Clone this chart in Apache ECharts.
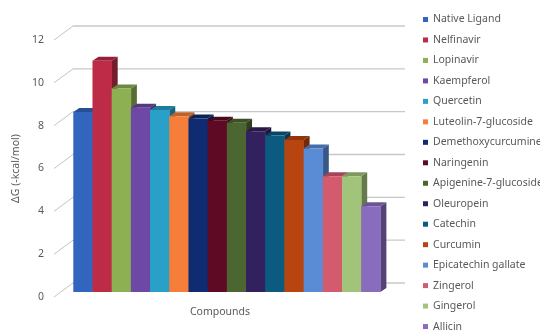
<!DOCTYPE html>
<html>
<head>
<meta charset="utf-8">
<script src="https://cdn.jsdelivr.net/npm/echarts@6/dist/echarts.min.js"></script>
<style>
  html, body { margin: 0; padding: 0; background: #ffffff; }
  #chart { width: 540px; height: 332px; }
</style>
</head>
<body>
<div id="chart"></div>
<script>
// Binding free energy per compound (ΔG, -kcal/mol)
const category = ['Compounds'];
const compounds = [
  'Native Ligand', 'Nelfinavir', 'Lopinavir', 'Kaempferol', 'Quercetin',
  'Luteolin-7-glucoside', 'Demethoxycurcumine', 'Naringenin',
  'Apigenine-7-glucoside', 'Oleuropein', 'Catechin', 'Curcumin',
  'Epicatechin gallate', 'Zingerol', 'Gingerol', 'Allicin'
];
const deltaG = [8.4, 10.8, 9.5, 8.6, 8.5, 8.2, 8.1, 8.0, 7.9, 7.5, 7.3, 7.1, 6.7, 5.4, 5.4, 4.0];
const colors = [
  '#3265be', '#be2b46', '#8cb052', '#6e48a6', '#28a0c8', '#f47e3a',
  '#0f2c72', '#5e0a24', '#4b6630', '#33205e', '#0d5a80', '#b84410',
  '#5a8cd6', '#d45a6e', '#a2c47a', '#8a6cbe'
];
const yTicks = [0, 2, 4, 6, 8, 10, 12];

// Oblique projection of the plot box: wall depth and bar depth (pixels)
const WALL_DX = 19, WALL_DY = -14;
const BAR_POS = 0.36;            // bar front face position within the depth
const BAR_DX = 6, BAR_DY = -4;   // bar depth
const BAR_SPAN = 0.925;          // share of the category band taken by the bars

function shade(hex, f) {
  const n = parseInt(hex.slice(1), 16);
  const r = Math.round(((n >> 16) & 255) * f);
  const g = Math.round(((n >> 8) & 255) * f);
  const b = Math.round((n & 255) * f);
  return 'rgb(' + r + ',' + g + ',' + b + ')';
}

function barRenderer(idx) {
  return function (params, api) {
    const base = api.coord([0, 0]);
    const band = api.size([1, 0])[0];
    const total = band * BAR_SPAN;
    const w = total / compounds.length;
    const offX = WALL_DX * BAR_POS, offY = WALL_DY * BAR_POS;
    const x0 = base[0] - total / 2 + idx * w + offX;
    const yTop = api.coord([0, api.value(1)])[1] + offY;
    const yBot = base[1] + offY;
    const c = colors[idx];
    return {
      type: 'group',
      children: [
        {
          type: 'polygon',
          shape: { points: [[x0 + w, yTop], [x0 + w + BAR_DX, yTop + BAR_DY], [x0 + w + BAR_DX, yBot + BAR_DY], [x0 + w, yBot]] },
          style: { fill: shade(c, 0.62) }
        },
        {
          type: 'polygon',
          shape: { points: [[x0, yTop], [x0 + w, yTop], [x0 + w + BAR_DX, yTop + BAR_DY], [x0 + BAR_DX, yTop + BAR_DY]] },
          style: { fill: shade(c, 0.78) }
        },
        {
          type: 'rect',
          shape: { x: x0, y: yTop, width: w + 0.4, height: yBot - yTop },
          style: { fill: c }
        }
      ]
    };
  };
}

// Back wall gridlines with the diagonal leaders to the tick labels
function wallRenderer(params, api) {
  const cs = params.coordSys;
  const p = api.coord([0, api.value(1)]);
  const y = p[1];
  const xl = cs.x, xr = cs.x + cs.width;
  return {
    type: 'group',
    children: [
      {
        type: 'line',
        shape: { x1: xl, y1: y, x2: xl + WALL_DX, y2: y + WALL_DY },
        style: { stroke: '#c4c4c4', lineWidth: 1 }
      },
      {
        type: 'line',
        shape: { x1: xl + WALL_DX, y1: y + WALL_DY, x2: xr + WALL_DX, y2: y + WALL_DY },
        style: { stroke: '#c8c8c8', lineWidth: 1.4 }
      }
    ]
  };
}

const series = compounds.map(function (name, i) {
  return {
    name: name,
    type: 'custom',
    coordinateSystem: 'cartesian2d',
    itemStyle: { color: colors[i] },
    renderItem: barRenderer(i),
    encode: { x: 0, y: 1 },
    data: [[0, deltaG[i]]],
    z: 3
  };
});
series.push({
  name: 'wall',
  type: 'custom',
  coordinateSystem: 'cartesian2d',
  renderItem: wallRenderer,
  encode: { x: 0, y: 1 },
  data: yTicks.map(function (v) { return [0, v]; }),
  silent: true,
  z: 1
});

const FONT = 'Noto Sans';
const chart = echarts.init(document.getElementById('chart'), null, { renderer: 'canvas' });
chart.setOption({
  animation: false,
  backgroundColor: '#ffffff',
  textStyle: { fontFamily: FONT, color: '#595959' },
  grid: { left: 54, top: 40, width: 332, height: 257, containLabel: false },
  xAxis: {
    type: 'category',
    data: category,
    axisLine: { show: false },
    axisTick: { show: false },
    splitLine: { show: false },
    axisLabel: { color: '#595959', fontFamily: FONT, fontSize: 10.5, margin: 10 }
  },
  yAxis: {
    type: 'value',
    min: 0,
    max: 12,
    interval: 2,
    name: 'ΔG (-kcal/mol)',
    nameLocation: 'middle',
    nameRotate: 90,
    nameGap: 28,
    nameTextStyle: { color: '#595959', fontFamily: FONT, fontSize: 10.5 },
    axisLine: { show: false },
    axisTick: { show: false },
    splitLine: { show: false },
    axisLabel: { color: '#595959', fontFamily: FONT, fontSize: 10.5, margin: 10 }
  },
  legend: {
    orient: 'vertical',
    left: 423,
    top: 14,
    height: 330,
    padding: 0,
    data: compounds.map(function (name, i) {
      return { name: name, icon: 'rect', itemStyle: { color: colors[i] } };
    }),
    itemWidth: 5,
    itemHeight: 5,
    itemGap: 9.47,
    textStyle: { color: '#595959', fontFamily: FONT, fontSize: 10.5, lineHeight: 11 },
    selectedMode: false
  },
  series: series
});
</script>
</body>
</html>
